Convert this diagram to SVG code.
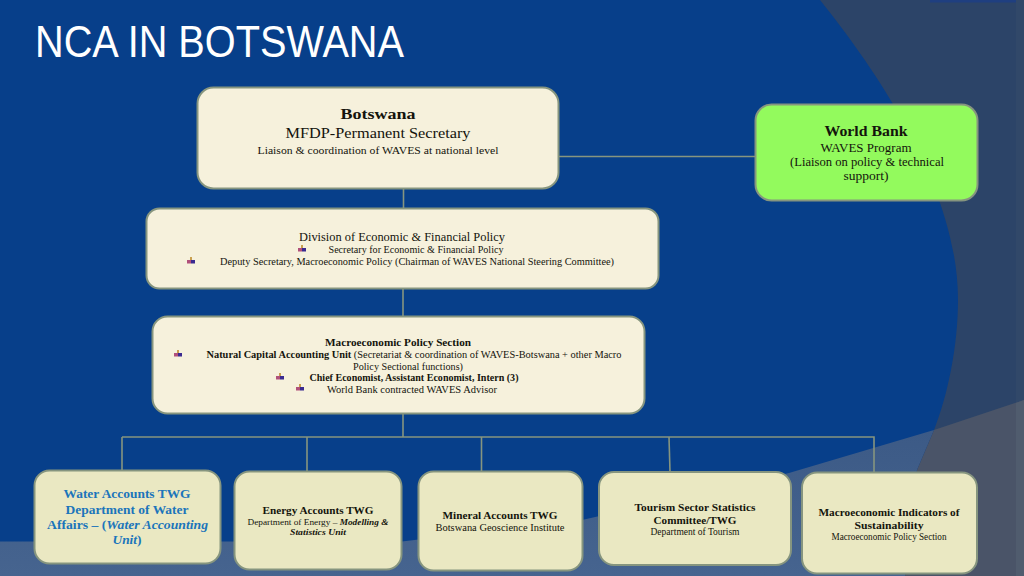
<svg xmlns="http://www.w3.org/2000/svg" width="1024" height="576" viewBox="0 0 1024 576">
<defs>
<linearGradient id="bg" x1="0" y1="0" x2="0" y2="1"><stop offset="0" stop-color="#3c5a86"/><stop offset="1" stop-color="#46648f"/></linearGradient>
<g id="bullet"><rect x="-1" y="-4" width="2" height="3" fill="#c9a050"/><rect x="-4" y="-1" width="4" height="3.500" fill="#b0507a"/><rect x="0" y="-1" width="4" height="3.500" fill="#3a2a90"/></g>
</defs>
<style>
text{font-family:"Liberation Serif","DejaVu Serif",serif;text-anchor:middle;fill:#14140c}
.b{font-weight:bold}
.n{fill:#f6f1dc;stroke:#86957f;stroke-width:2}
.t{fill:#eae8c2;stroke:#86957f;stroke-width:2}
.c{fill:none;stroke:#86957f;stroke-width:1.600}
.w{fill:#1b75bb}
</style>
<rect width="1024" height="576" fill="#073f8a"/>
<path d="M820 0H1024V440H934V430C948 395 958 345 958 300C958 190 880 75 820 0Z" fill="#2c4468"/>
<rect x="930" y="0" width="94" height="2.500" fill="#1f3f80"/>
<rect x="1016" y="0" width="8" height="410" fill="#314869"/>
<path d="M0 541.500L402 541.500L582 520L789 473L934 430L917 470L905 576H0Z" fill="url(#bg)"/>
<path d="M934 430L1024 400V576H905L917 470Z" fill="#4a5468"/>
<path d="M1016 403L1024 400V576H1016Z" fill="#505c6e"/>
<text x="219.500" y="56.500" style="font-family:'Liberation Sans',sans-serif;font-size:44px;fill:#fff" textLength="369" lengthAdjust="spacingAndGlyphs">NCA IN BOTSWANA</text>
<g id="connectors">
<path class="c" d="M558 156.500H756"/>
<path class="c" d="M403.500 188V209"/>
<path class="c" d="M403 288V317"/>
<path class="c" d="M403 414V437"/>
<path class="c" d="M122 437H874V472"/>
<path class="c" d="M122 437V471"/>
<path class="c" d="M307 437V471"/>
<path class="c" d="M481.500 437V471"/>
<path class="c" d="M669 437L670 472"/>
</g>
<g id="botswana"><rect class="n" x="197.500" y="87.500" width="361" height="101" rx="16"/>
<text class="b" x="378" y="119" font-size="15.500" textLength="75" lengthAdjust="spacingAndGlyphs">Botswana</text>
<text x="378" y="138" font-size="14.500" textLength="185" lengthAdjust="spacingAndGlyphs">MFDP-Permanent Secretary</text>
<text x="378" y="154" font-size="11" textLength="241" lengthAdjust="spacingAndGlyphs">Liaison &amp; coordination of WAVES at national level</text></g>
<g id="world-bank"><rect x="755.500" y="104.500" width="222" height="96" rx="16" fill="#93fa5d" stroke="#86957f" stroke-width="2"/>
<text class="b" x="866" y="136" font-size="14.500" textLength="83" lengthAdjust="spacingAndGlyphs">World Bank</text>
<text x="866" y="152" font-size="12.500" textLength="91" lengthAdjust="spacingAndGlyphs">WAVES Program</text>
<text x="867" y="166" font-size="12.500" textLength="154" lengthAdjust="spacingAndGlyphs">(Liaison on policy &amp; technical</text>
<text x="866" y="180" font-size="12.500" textLength="45" lengthAdjust="spacingAndGlyphs">support)</text></g>
<g id="division"><rect class="n" x="146.500" y="208.500" width="512" height="80" rx="13"/>
<text x="402" y="240.500" font-size="12.500" textLength="206" lengthAdjust="spacingAndGlyphs">Division of Economic &amp; Financial Policy</text>
<use href="#bullet" x="302" y="249"/>
<text x="416" y="253" font-size="10.500" textLength="175" lengthAdjust="spacingAndGlyphs">Secretary for Economic &amp; Financial Policy</text>
<use href="#bullet" x="191" y="261"/>
<text x="417" y="265" font-size="10.500" textLength="394" lengthAdjust="spacingAndGlyphs">Deputy Secretary, Macroeconomic Policy (Chairman of WAVES National Steering Committee)</text></g>
<g id="macro-section"><rect class="n" x="152.500" y="316.500" width="492" height="97" rx="15"/>
<text class="b" x="398" y="346" font-size="11" textLength="146" lengthAdjust="spacingAndGlyphs">Macroeconomic Policy Section</text>
<use href="#bullet" x="178" y="354"/>
<text x="414" y="358" font-size="10.500" textLength="415" lengthAdjust="spacingAndGlyphs"><tspan class="b">Natural Capital Accounting Unit</tspan> (Secretariat &amp; coordination of WAVES-Botswana + other Macro</text>
<text x="408" y="370" font-size="10.500" textLength="110" lengthAdjust="spacingAndGlyphs">Policy Sectional functions)</text>
<use href="#bullet" x="280" y="377"/>
<text class="b" x="414" y="381" font-size="10.500" textLength="209" lengthAdjust="spacingAndGlyphs">Chief Economist, Assistant Economist, Intern (3)</text>
<use href="#bullet" x="300" y="388"/>
<text x="412" y="393" font-size="10.500" textLength="170" lengthAdjust="spacingAndGlyphs">World Bank contracted WAVES Advisor</text></g>
<g id="water"><rect class="t" x="34.500" y="470.500" width="186" height="93" rx="15"/>
<text class="b w" x="127" y="498" font-size="12.500" textLength="127" lengthAdjust="spacingAndGlyphs">Water Accounts TWG</text>
<text class="b w" x="127" y="514" font-size="12.500" textLength="123" lengthAdjust="spacingAndGlyphs">Department of Water</text>
<text class="b w" x="127.500" y="529" font-size="12.500" textLength="161" lengthAdjust="spacingAndGlyphs">Affairs – (<tspan class="w" font-style="italic">Water Accounting</tspan></text>
<text class="b w" x="127" y="544" font-size="12.500" textLength="29" lengthAdjust="spacingAndGlyphs"><tspan class="w" font-style="italic">Unit</tspan>)</text></g>
<g id="energy"><rect class="t" x="234.500" y="471.500" width="167" height="98" rx="15"/>
<text class="b" x="318" y="514" font-size="11" textLength="111" lengthAdjust="spacingAndGlyphs">Energy Accounts TWG</text>
<text x="318" y="525" font-size="9" textLength="141" lengthAdjust="spacingAndGlyphs">Department of Energy – <tspan class="b" font-style="italic">Modelling &amp;</tspan></text>
<text class="b" x="318" y="535" font-size="9" font-style="italic" textLength="56" lengthAdjust="spacingAndGlyphs">Statistics Unit</text></g>
<g id="mineral"><rect class="t" x="418.500" y="471.500" width="164" height="99" rx="15"/>
<text class="b" x="500" y="519" font-size="11" textLength="115" lengthAdjust="spacingAndGlyphs">Mineral Accounts TWG</text>
<text x="500" y="531" font-size="10" textLength="129" lengthAdjust="spacingAndGlyphs">Botswana Geoscience Institute</text></g>
<g id="tourism"><rect class="t" x="599" y="472" width="192" height="93" rx="15"/>
<text class="b" x="695" y="511" font-size="11" textLength="121" lengthAdjust="spacingAndGlyphs">Tourism Sector Statistics</text>
<text class="b" x="695" y="524" font-size="11" textLength="83" lengthAdjust="spacingAndGlyphs">Committee/TWG</text>
<text x="695" y="535" font-size="9.500" textLength="89" lengthAdjust="spacingAndGlyphs">Department of Tourism</text></g>
<g id="indicators"><rect class="t" x="802" y="472.500" width="175" height="101" rx="15"/>
<text class="b" x="889" y="516" font-size="11" textLength="141" lengthAdjust="spacingAndGlyphs">Macroeconomic Indicators of</text>
<text class="b" x="889" y="529" font-size="11" textLength="69" lengthAdjust="spacingAndGlyphs">Sustainability</text>
<text x="889" y="540" font-size="9.500" textLength="115" lengthAdjust="spacingAndGlyphs">Macroeconomic Policy Section</text></g>
</svg>
